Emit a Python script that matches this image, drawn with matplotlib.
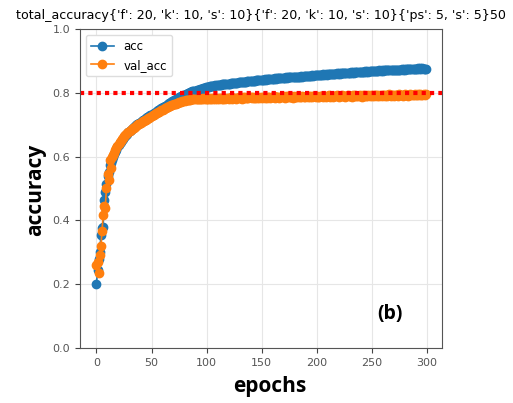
import numpy as np
import matplotlib
matplotlib.use("Agg")
from matplotlib import pyplot as plt

title = "total_accuracy{'f': 20, 'k': 10, 's': 10}{'f': 20, 'k': 10, 's': 10}{'ps': 5, 's': 5}50"

acc = [
    0.200, 0.245, 0.280, 0.300, 0.355, 0.375, 0.380, 0.465, 0.490, 0.515,
    0.540, 0.550, 0.572, 0.580, 0.590, 0.598, 0.607, 0.615, 0.622, 0.630,
    0.636, 0.641, 0.647, 0.652, 0.656, 0.661, 0.665, 0.668, 0.672, 0.676,
    0.679, 0.683, 0.686, 0.689, 0.692, 0.695, 0.698, 0.701, 0.703, 0.706,
    0.709, 0.711, 0.714, 0.716, 0.718, 0.721, 0.723, 0.725, 0.727, 0.729,
    0.731, 0.734, 0.736, 0.738, 0.741, 0.743, 0.745, 0.747, 0.750, 0.752,
    0.754, 0.756, 0.758, 0.760, 0.763, 0.765, 0.767, 0.769, 0.771, 0.774,
    0.776, 0.778, 0.780, 0.782, 0.784, 0.786, 0.788, 0.789, 0.791, 0.793,
    0.794, 0.796, 0.797, 0.799, 0.800, 0.801, 0.803, 0.804, 0.805, 0.806,
    0.807, 0.808, 0.809, 0.810, 0.811, 0.812, 0.813, 0.814, 0.815, 0.817,
    0.818, 0.819, 0.819, 0.820, 0.821, 0.821, 0.822, 0.822, 0.823, 0.823,
    0.824, 0.824, 0.825, 0.825, 0.826, 0.826, 0.827, 0.827, 0.828, 0.828,
    0.829, 0.829, 0.830, 0.830, 0.830, 0.831, 0.831, 0.832, 0.832, 0.833,
    0.833, 0.833, 0.834, 0.834, 0.835, 0.835, 0.835, 0.836, 0.836, 0.837,
    0.837, 0.837, 0.838, 0.838, 0.838, 0.839, 0.839, 0.839, 0.840, 0.840,
    0.840, 0.841, 0.840, 0.842, 0.841, 0.842, 0.843, 0.842, 0.843, 0.844,
    0.843, 0.844, 0.845, 0.844, 0.845, 0.846, 0.845, 0.846, 0.847, 0.846,
    0.847, 0.846, 0.848, 0.847, 0.848, 0.849, 0.848, 0.849, 0.848, 0.850,
    0.849, 0.850, 0.851, 0.850, 0.851, 0.850, 0.852, 0.851, 0.852, 0.853,
    0.852, 0.853, 0.852, 0.854, 0.853, 0.854, 0.855, 0.854, 0.855, 0.856,
    0.855, 0.856, 0.857, 0.856, 0.857, 0.856, 0.858, 0.857, 0.858, 0.857,
    0.859, 0.858, 0.859, 0.858, 0.860, 0.859, 0.860, 0.859, 0.861, 0.860,
    0.861, 0.860, 0.862, 0.861, 0.862, 0.861, 0.863, 0.862, 0.863, 0.862,
    0.863, 0.864, 0.863, 0.864, 0.863, 0.865, 0.864, 0.865, 0.864, 0.866,
    0.865, 0.866, 0.865, 0.866, 0.867, 0.866, 0.867, 0.866, 0.868, 0.867,
    0.868, 0.867, 0.868, 0.869, 0.868, 0.869, 0.868, 0.870, 0.869, 0.870,
    0.869, 0.870, 0.871, 0.870, 0.871, 0.870, 0.871, 0.872, 0.871, 0.872,
    0.871, 0.872, 0.873, 0.872, 0.873, 0.872, 0.873, 0.874, 0.873, 0.874,
    0.873, 0.874, 0.875, 0.874, 0.875, 0.874, 0.875, 0.876, 0.875, 0.876,
    0.875, 0.876, 0.877, 0.876, 0.877, 0.876, 0.877, 0.876, 0.875, 0.876,
]

val_acc = [
    0.260, 0.270, 0.235, 0.290, 0.320, 0.365, 0.415, 0.445, 0.440, 0.500,
    0.545, 0.525, 0.590, 0.565, 0.600, 0.605, 0.612, 0.620, 0.628, 0.633,
    0.640, 0.645, 0.650, 0.655, 0.659, 0.663, 0.667, 0.671, 0.674, 0.677,
    0.680, 0.683, 0.686, 0.689, 0.691, 0.694, 0.696, 0.699, 0.701, 0.703,
    0.705, 0.708, 0.710, 0.712, 0.714, 0.716, 0.718, 0.720, 0.722, 0.724,
    0.727, 0.729, 0.731, 0.733, 0.735, 0.737, 0.739, 0.741, 0.743, 0.745,
    0.747, 0.749, 0.751, 0.753, 0.754, 0.756, 0.758, 0.759, 0.761, 0.762,
    0.764, 0.765, 0.766, 0.768, 0.769, 0.770, 0.771, 0.772, 0.773, 0.774,
    0.775, 0.776, 0.776, 0.777, 0.778, 0.778, 0.779, 0.779, 0.780, 0.780,
    0.781, 0.780, 0.782, 0.781, 0.779, 0.782, 0.780, 0.783, 0.781, 0.782,
    0.781, 0.779, 0.783, 0.780, 0.782, 0.784, 0.781, 0.783, 0.780, 0.782,
    0.784, 0.781, 0.783, 0.785, 0.782, 0.780, 0.784, 0.782, 0.785, 0.783,
    0.781, 0.784, 0.786, 0.782, 0.784, 0.783, 0.785, 0.781, 0.784, 0.786,
    0.783, 0.785, 0.782, 0.786, 0.784, 0.787, 0.783, 0.785, 0.784, 0.786,
    0.788, 0.784, 0.786, 0.785, 0.783, 0.787, 0.785, 0.786, 0.784, 0.787,
    0.785, 0.788, 0.786, 0.784, 0.787, 0.785, 0.788, 0.786, 0.784, 0.787,
    0.786, 0.789, 0.785, 0.787, 0.788, 0.786, 0.784, 0.788, 0.786, 0.789,
    0.787, 0.785, 0.789, 0.787, 0.790, 0.786, 0.788, 0.787, 0.785, 0.789,
    0.788, 0.786, 0.790, 0.787, 0.789, 0.788, 0.786, 0.790, 0.788, 0.787,
    0.789, 0.791, 0.787, 0.789, 0.788, 0.790, 0.786, 0.789, 0.791, 0.788,
    0.790, 0.788, 0.786, 0.790, 0.789, 0.791, 0.788, 0.790, 0.787, 0.791,
    0.789, 0.792, 0.788, 0.790, 0.789, 0.787, 0.791, 0.789, 0.792, 0.790,
    0.788, 0.791, 0.790, 0.792, 0.789, 0.791, 0.788, 0.790, 0.793, 0.789,
    0.791, 0.790, 0.788, 0.792, 0.790, 0.793, 0.789, 0.791, 0.790, 0.792,
    0.790, 0.788, 0.792, 0.791, 0.793, 0.789, 0.791, 0.794, 0.790, 0.792,
    0.791, 0.793, 0.789, 0.792, 0.794, 0.790, 0.792, 0.791, 0.793, 0.790,
    0.792, 0.794, 0.791, 0.793, 0.790, 0.792, 0.795, 0.791, 0.793, 0.792,
    0.790, 0.794, 0.792, 0.793, 0.791, 0.795, 0.792, 0.794, 0.791, 0.793,
    0.795, 0.792, 0.794, 0.791, 0.793, 0.795, 0.792, 0.794, 0.793, 0.796,
    0.792, 0.794, 0.795, 0.793, 0.796, 0.794, 0.792, 0.795, 0.794, 0.796,
]

target = 0.8
epochs = np.arange(len(acc))

fig = plt.figure(figsize=(5.13, 4.03), dpi=100)
ax = fig.add_axes([0.156, 0.137, 0.706, 0.791])

ax.plot(epochs, acc, "o-", color="tab:blue", ms=6, lw=1.2, label="acc")
ax.plot(epochs, val_acc, "o-", color="tab:orange", ms=6, lw=1.2, label="val_acc")
ax.axhline(target, color="red", ls=(0, (1, 1)), lw=3)

ax.set_ylim(0, 1.0)
ax.grid(True, color="#e6e6e6", lw=0.8)
ax.set_axisbelow(True)
for s in ax.spines.values():
    s.set_color("#555555")
ax.tick_params(colors="#444444", labelsize=8, labelcolor="#555555")

ax.legend(loc="upper left", fontsize=8.5, framealpha=1.0, edgecolor="#dddddd")
ax.set_title(title, fontsize=9.1, pad=7)

fig.text(0.07, 0.53, "accuracy", rotation=90, ha="center", va="center",
         fontsize=15, fontweight="bold", family="Open Sans")
fig.text(0.525, 0.042, "epochs", ha="center", va="center",
         fontsize=15, fontweight="bold", family="Open Sans")
ax.text(0.855, 0.105, "(b)", transform=ax.transAxes, ha="center", va="center",
        fontsize=14, fontweight="bold", family="Open Sans")

fig.savefig("out.png", dpi=100)
